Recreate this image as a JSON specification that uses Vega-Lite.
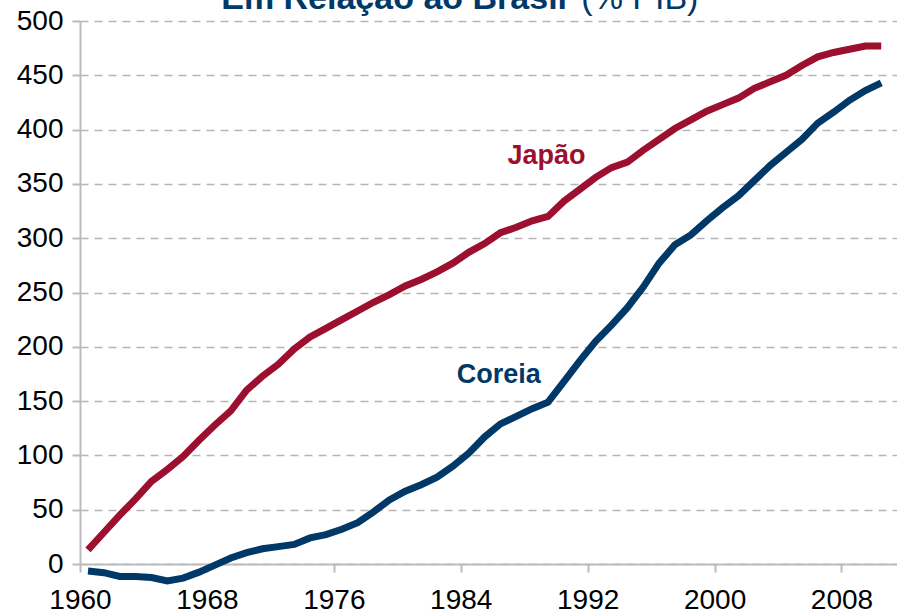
{
  "$schema": "https://vega.github.io/schema/vega-lite/v6.json",
  "width": 817,
  "height": 543,
  "autosize": {"type": "none"},
  "padding": {"left": 80, "top": 21, "right": 0, "bottom": 49},
  "background": "white",
  "config": {
    "view": {"stroke": null},
    "font": "Liberation Sans"
  },
  "datasets": {
    "series": [
      {"country": "Japão", "year": 1960, "value": 13},
      {"country": "Japão", "year": 1961, "value": 29},
      {"country": "Japão", "year": 1962, "value": 45},
      {"country": "Japão", "year": 1963, "value": 60},
      {"country": "Japão", "year": 1964, "value": 76},
      {"country": "Japão", "year": 1965, "value": 87},
      {"country": "Japão", "year": 1966, "value": 99},
      {"country": "Japão", "year": 1967, "value": 114},
      {"country": "Japão", "year": 1968, "value": 128},
      {"country": "Japão", "year": 1969, "value": 141},
      {"country": "Japão", "year": 1970, "value": 160},
      {"country": "Japão", "year": 1971, "value": 173},
      {"country": "Japão", "year": 1972, "value": 184},
      {"country": "Japão", "year": 1973, "value": 198},
      {"country": "Japão", "year": 1974, "value": 209},
      {"country": "Japão", "year": 1975, "value": 217},
      {"country": "Japão", "year": 1976, "value": 225},
      {"country": "Japão", "year": 1977, "value": 233},
      {"country": "Japão", "year": 1978, "value": 241},
      {"country": "Japão", "year": 1979, "value": 248},
      {"country": "Japão", "year": 1980, "value": 256},
      {"country": "Japão", "year": 1981, "value": 262},
      {"country": "Japão", "year": 1982, "value": 269},
      {"country": "Japão", "year": 1983, "value": 277},
      {"country": "Japão", "year": 1984, "value": 287},
      {"country": "Japão", "year": 1985, "value": 295},
      {"country": "Japão", "year": 1986, "value": 305},
      {"country": "Japão", "year": 1987, "value": 310},
      {"country": "Japão", "year": 1988, "value": 316},
      {"country": "Japão", "year": 1989, "value": 320},
      {"country": "Japão", "year": 1990, "value": 334},
      {"country": "Japão", "year": 1991, "value": 345},
      {"country": "Japão", "year": 1992, "value": 356},
      {"country": "Japão", "year": 1993, "value": 365},
      {"country": "Japão", "year": 1994, "value": 370},
      {"country": "Japão", "year": 1995, "value": 381},
      {"country": "Japão", "year": 1996, "value": 391},
      {"country": "Japão", "year": 1997, "value": 401},
      {"country": "Japão", "year": 1998, "value": 409},
      {"country": "Japão", "year": 1999, "value": 417},
      {"country": "Japão", "year": 2000, "value": 423},
      {"country": "Japão", "year": 2001, "value": 429},
      {"country": "Japão", "year": 2002, "value": 438},
      {"country": "Japão", "year": 2003, "value": 444},
      {"country": "Japão", "year": 2004, "value": 450},
      {"country": "Japão", "year": 2005, "value": 459},
      {"country": "Japão", "year": 2006, "value": 467},
      {"country": "Japão", "year": 2007, "value": 471},
      {"country": "Japão", "year": 2008, "value": 474},
      {"country": "Japão", "year": 2009, "value": 477},
      {"country": "Japão", "year": 2010, "value": 477},
      {"country": "Coreia", "year": 1960, "value": -6.5},
      {"country": "Coreia", "year": 1961, "value": -8},
      {"country": "Coreia", "year": 1962, "value": -11.5},
      {"country": "Coreia", "year": 1963, "value": -11.5},
      {"country": "Coreia", "year": 1964, "value": -12.5},
      {"country": "Coreia", "year": 1965, "value": -15.5},
      {"country": "Coreia", "year": 1966, "value": -13},
      {"country": "Coreia", "year": 1967, "value": -7.5},
      {"country": "Coreia", "year": 1968, "value": -1},
      {"country": "Coreia", "year": 1969, "value": 5.5},
      {"country": "Coreia", "year": 1970, "value": 10.5},
      {"country": "Coreia", "year": 1971, "value": 14},
      {"country": "Coreia", "year": 1972, "value": 16},
      {"country": "Coreia", "year": 1973, "value": 18},
      {"country": "Coreia", "year": 1974, "value": 24},
      {"country": "Coreia", "year": 1975, "value": 27},
      {"country": "Coreia", "year": 1976, "value": 32},
      {"country": "Coreia", "year": 1977, "value": 38},
      {"country": "Coreia", "year": 1978, "value": 48},
      {"country": "Coreia", "year": 1979, "value": 59},
      {"country": "Coreia", "year": 1980, "value": 67},
      {"country": "Coreia", "year": 1981, "value": 73},
      {"country": "Coreia", "year": 1982, "value": 80},
      {"country": "Coreia", "year": 1983, "value": 90},
      {"country": "Coreia", "year": 1984, "value": 102},
      {"country": "Coreia", "year": 1985, "value": 117},
      {"country": "Coreia", "year": 1986, "value": 129},
      {"country": "Coreia", "year": 1987, "value": 136},
      {"country": "Coreia", "year": 1988, "value": 143},
      {"country": "Coreia", "year": 1989, "value": 149},
      {"country": "Coreia", "year": 1990, "value": 168},
      {"country": "Coreia", "year": 1991, "value": 187},
      {"country": "Coreia", "year": 1992, "value": 205},
      {"country": "Coreia", "year": 1993, "value": 220},
      {"country": "Coreia", "year": 1994, "value": 236},
      {"country": "Coreia", "year": 1995, "value": 255},
      {"country": "Coreia", "year": 1996, "value": 277},
      {"country": "Coreia", "year": 1997, "value": 294},
      {"country": "Coreia", "year": 1998, "value": 303},
      {"country": "Coreia", "year": 1999, "value": 316},
      {"country": "Coreia", "year": 2000, "value": 328},
      {"country": "Coreia", "year": 2001, "value": 339},
      {"country": "Coreia", "year": 2002, "value": 353},
      {"country": "Coreia", "year": 2003, "value": 367},
      {"country": "Coreia", "year": 2004, "value": 379},
      {"country": "Coreia", "year": 2005, "value": 391},
      {"country": "Coreia", "year": 2006, "value": 406},
      {"country": "Coreia", "year": 2007, "value": 416},
      {"country": "Coreia", "year": 2008, "value": 427},
      {"country": "Coreia", "year": 2009, "value": 436},
      {"country": "Coreia", "year": 2010, "value": 443}
    ],
    "labels": [
      {"label": "Japão", "year": 1989.4, "value": 376, "country": "Japão"},
      {"label": "Coreia", "year": 1986.4, "value": 174, "country": "Coreia"}
    ],
    "titles": [
      {"part": "Em Relação ao Brasil", "year": 1990.7, "value": 511},
      {"part": "(% PIB)", "year": 1991.6, "value": 511}
    ]
  },
  "layer": [
    {
      "data": {"name": "series"},
      "mark": {"type": "line", "strokeWidth": 7, "xOffset": 8, "clip": false},
      "encoding": {
        "x": {
          "field": "year",
          "type": "quantitative",
          "scale": {"domain": [1960, 2011.5], "nice": false, "zero": false},
          "axis": {
            "values": [1960, 1968, 1976, 1984, 1992, 2000, 2008],
            "format": "d",
            "title": null,
            "grid": false,
            "domainColor": "#BBBBBB",
            "domainWidth": 2,
            "tickColor": "#BBBBBB",
            "tickWidth": 2,
            "tickSize": 8,
            "labelFontSize": 28,
            "labelColor": "#000000",
            "labelPadding": 14,
            "labelFont": "Liberation Sans",
            "labelFlush": false,
            "labelOverlap": false
          }
        },
        "y": {
          "field": "value",
          "type": "quantitative",
          "scale": {"domain": [0, 500], "nice": false, "zero": false},
          "axis": {
            "values": [0, 50, 100, 150, 200, 250, 300, 350, 400, 450, 500],
            "title": null,
            "grid": true,
            "gridDash": [8, 6],
            "gridColor": "#B5B5B5",
            "gridWidth": 1.6,
            "domainColor": "#BBBBBB",
            "domainWidth": 2,
            "tickColor": "#BBBBBB",
            "tickWidth": 2,
            "tickSize": 8,
            "labelFontSize": 28,
            "labelColor": "#000000",
            "labelPadding": 9,
            "labelFont": "Liberation Sans",
            "labelFlush": false,
            "labelOverlap": false
          }
        },
        "color": {
          "field": "country",
          "type": "nominal",
          "scale": {"domain": ["Japão", "Coreia"], "range": ["#9C0F2E", "#003968"]},
          "legend": null
        },
        "detail": {"field": "country"}
      }
    },
    {
      "data": {"name": "labels"},
      "mark": {"type": "text", "fontSize": 27, "fontWeight": "bold", "align": "center", "baseline": "middle", "font": "Liberation Sans"},
      "encoding": {
        "x": {"field": "year", "type": "quantitative"},
        "y": {"field": "value", "type": "quantitative"},
        "text": {"field": "label"},
        "color": {"field": "country", "type": "nominal", "legend": null}
      }
    },
    {
      "data": {"name": "titles"},
      "transform": [{"filter": "datum.part == 'Em Relação ao Brasil'"}],
      "mark": {"type": "text", "fontSize": 34, "fontWeight": "bold", "align": "right", "baseline": "alphabetic", "color": "#003968", "font": "Liberation Sans", "clip": false},
      "encoding": {
        "x": {"field": "year", "type": "quantitative"},
        "y": {"field": "value", "type": "quantitative"},
        "text": {"field": "part"}
      }
    },
    {
      "data": {"name": "titles"},
      "transform": [{"filter": "datum.part == '(% PIB)'"}],
      "mark": {"type": "text", "fontSize": 34, "fontWeight": "normal", "align": "left", "baseline": "alphabetic", "color": "#003968", "font": "Liberation Sans", "clip": false},
      "encoding": {
        "x": {"field": "year", "type": "quantitative"},
        "y": {"field": "value", "type": "quantitative"},
        "text": {"field": "part"}
      }
    }
  ]
}
